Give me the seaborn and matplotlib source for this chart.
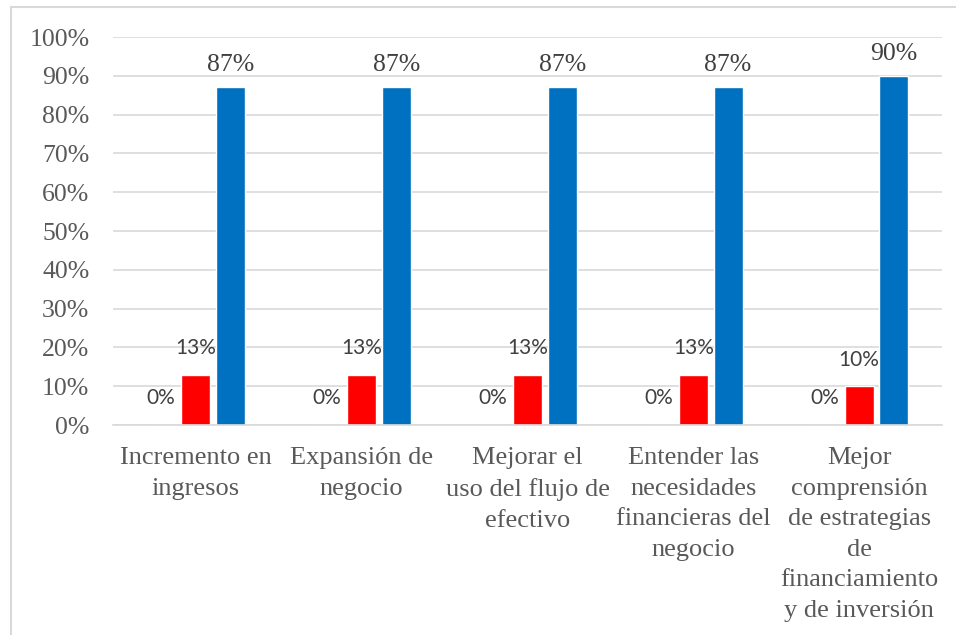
import numpy as np
import pandas as pd
import matplotlib
matplotlib.use("Agg")
import matplotlib.pyplot as plt
from matplotlib.patches import Rectangle
from matplotlib.ticker import PercentFormatter
import seaborn as sns

categorias = ["Incremento en\ningresos",
              "Expansión de\nnegocio",
              "Mejorar el\nuso del flujo de\nefectivo",
              "Entender las\nnecesidades\nfinancieras del\nnegocio",
              "Mejor\ncomprensión\nde estrategias\nde\nfinanciamiento\ny de inversión"]
series = ["Serie1", "Serie2", "Serie3"]
serie1 = [0.0, 0.0, 0.0, 0.0, 0.0]
serie2 = [0.13, 0.13, 0.13, 0.13, 0.10]
serie3 = [0.87, 0.87, 0.87, 0.87, 0.90]
colores = ["#A5A5A5", "#FF0000", "#0070C0"]

rows = []
for s, vals in zip(series, [serie1, serie2, serie3]):
    for c, v in zip(categorias, vals):
        rows.append({"cat": c, "serie": s, "valor": v})
df = pd.DataFrame(rows)

sns.set_style("white")
fig = plt.figure(figsize=(9.56, 6.35), dpi=100)
ax = fig.add_axes([113/956, 1 - 425/635, (942-113)/956, (425-37)/635])

sns.barplot(data=df, x="cat", y="valor", hue="serie", hue_order=series,
            palette=colores, saturation=1, width=0.63, gap=0.17,
            legend=False, ax=ax)

ax.set_ylim(0, 1)
ax.set_yticks(np.arange(0, 1.01, 0.1))
ax.yaxis.set_major_formatter(PercentFormatter(1.0, decimals=0))
ax.grid(axis="y", color="#d9d9d9", lw=1.2)
ax.set_axisbelow(True)
for s in ["left", "right", "top"]:
    ax.spines[s].set_visible(False)
ax.spines["bottom"].set_color("#d9d9d9")
ax.spines["bottom"].set_linewidth(1.2)
ax.set_xlabel("")
ax.set_ylabel("")
ax.set_xlim(-0.5, 4.5)

serif = ["Liberation Serif", "DejaVu Serif"]
ax.tick_params(axis="both", length=0, colors="#595959")
ax.tick_params(axis="y", pad=17)
ax.tick_params(axis="x", pad=16)
for t in ax.get_yticklabels():
    t.set_fontfamily(serif)
    t.set_fontsize(18.5)
for t in ax.get_xticklabels():
    t.set_fontfamily(serif)
    t.set_fontsize(19)
    t.set_linespacing(1.5)
    t.set_va("top")

conts = ax.containers
for i, cont in enumerate(conts):
    if i < 2:
        ax.bar_label(cont, labels=[f"{v*100:.0f}%" for v in cont.datavalues],
                     padding=12, fontfamily=["Lato", "DejaVu Sans"],
                     fontsize=15, color="#404040")
    else:
        ax.bar_label(cont, labels=[f"{v*100:.0f}%" for v in cont.datavalues],
                     padding=8, fontfamily=serif, fontsize=18.5, color="#404040")

fig.patches.append(Rectangle((11/956, -0.1), 1.1, 1 - 7/635 + 0.1,
                             transform=fig.transFigure, fill=False,
                             edgecolor="#d9d9d9", lw=1.5))

fig.savefig("out.png", dpi=100)
